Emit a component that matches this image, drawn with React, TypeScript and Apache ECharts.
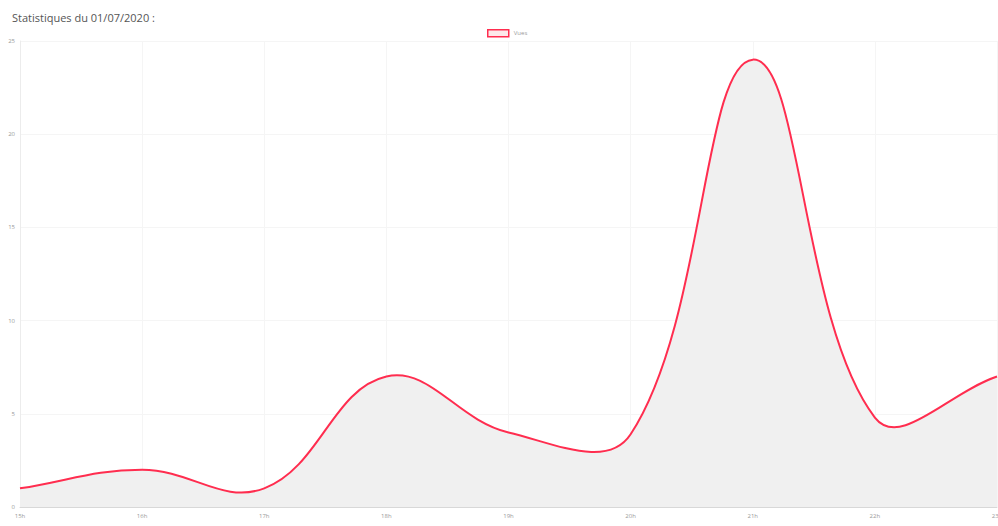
import React, { useEffect, useRef } from "react";
import * as echarts from "echarts";

const categories = ["15h", "16h", "17h", "18h", "19h", "20h", "21h", "22h", "23h"];
const views = [1, 2, 1, 7, 4, 3.9, 24, 4.8, 7];
const yTicks = { min: 0, max: 25, interval: 5 };
const seriesName = "Vues";
const titleText = "Statistiques du 01/07/2020 :";
const TENSION = 0.4;

function buildPaths(pts: number[][], baseY: number) {
  const n = pts.length;
  const cps: { prev: number[]; next: number[] }[] = [];
  for (let i = 0; i < n; i++) {
    const p1 = pts[i];
    const p0 = i > 0 ? pts[i - 1] : p1;
    const p2 = i < n - 1 ? pts[i + 1] : p1;
    const d01 = Math.hypot(p1[0] - p0[0], p1[1] - p0[1]);
    const d12 = Math.hypot(p2[0] - p1[0], p2[1] - p1[1]);
    let s01 = d01 / (d01 + d12);
    let s12 = d12 / (d01 + d12);
    if (!isFinite(s01)) s01 = 0;
    if (!isFinite(s12)) s12 = 0;
    const fa = TENSION * s01;
    const fb = TENSION * s12;
    cps.push({
      prev: [p1[0] - fa * (p2[0] - p0[0]), p1[1] - fa * (p2[1] - p0[1])],
      next: [p1[0] + fb * (p2[0] - p0[0]), p1[1] + fb * (p2[1] - p0[1])],
    });
  }
  let d = `M${pts[0][0]},${pts[0][1]}`;
  for (let i = 1; i < n; i++) {
    const a = cps[i - 1].next;
    const b = cps[i].prev;
    d += ` C${a[0]},${a[1]} ${b[0]},${b[1]} ${pts[i][0]},${pts[i][1]}`;
  }
  const area = `${d} L${pts[n - 1][0]},${baseY} L${pts[0][0]},${baseY} Z`;
  return { line: d, area };
}

export default function App() {
  const ref = useRef<HTMLDivElement>(null);
  useEffect(() => {
    document.body.style.margin = "0";
    const chart = echarts.init(ref.current!, null, { renderer: "svg" });
    chart.setOption({
      animation: false,
      backgroundColor: "#ffffff",
      title: {
        text: titleText,
        left: 7,
        top: 7,
        textStyle: { fontSize: 11, fontWeight: "normal", color: "#555", fontFamily: "Open Sans" },
      },
      legend: {
        data: [seriesName],
        top: 24,
        left: 482,
        itemWidth: 21,
        itemHeight: 7,
        itemGap: 4,
        icon: "rect",
        textStyle: { fontSize: 6, color: "#999", fontFamily: "Open Sans" },
        itemStyle: { color: "#fde8ea", borderColor: "#ff2d4f", borderWidth: 1.5 },
      },
      grid: { left: 20, right: 1, top: 41, bottom: 19, containLabel: false, outerBoundsMode: "none" },
      xAxis: {
        type: "category",
        data: categories,
        boundaryGap: false,
        axisLine: { lineStyle: { color: "#d8d8d8" } },
        axisTick: { show: false },
        axisLabel: { fontSize: 6, color: "#999", margin: 6, fontFamily: "Open Sans" },
        splitLine: { show: true, lineStyle: { color: "#f5f5f5" } },
      },
      yAxis: {
        type: "value",
        min: yTicks.min,
        max: yTicks.max,
        interval: yTicks.interval,
        axisLine: { show: true, lineStyle: { color: "#ececec" } },
        axisTick: { show: false },
        axisLabel: { fontSize: 6, color: "#999", margin: 5, fontFamily: "Open Sans" },
        splitLine: { show: true, lineStyle: { color: "#f5f5f5" } },
      },
      series: [
        {
          name: seriesName,
          type: "custom",
          data: views.map((v, i) => [i, v]),
          encode: { x: 0, y: 1 },
          itemStyle: { color: "#fde8ea", borderColor: "#ff2d4f" },
          renderItem: (params: any, api: any) => {
            if (params.dataIndex !== 0) return null;
            const pts = views.map((v, i) => api.coord([i, v]));
            const baseY = api.coord([0, 0])[1];
            const { line, area } = buildPaths(pts, baseY);
            return {
              type: "group",
              children: [
                { type: "path", shape: { pathData: area }, style: { fill: "#f0f0f0", stroke: null } },
                {
                  type: "path",
                  shape: { pathData: line },
                  style: { fill: null, stroke: "#ff2d4f", lineWidth: 2 },
                },
              ],
            };
          },
        },
      ],
    });
    return () => chart.dispose();
  }, []);
  return <div ref={ref} style={{ position: "fixed", left: 0, top: 0, width: 998, height: 526 }} />;
}
